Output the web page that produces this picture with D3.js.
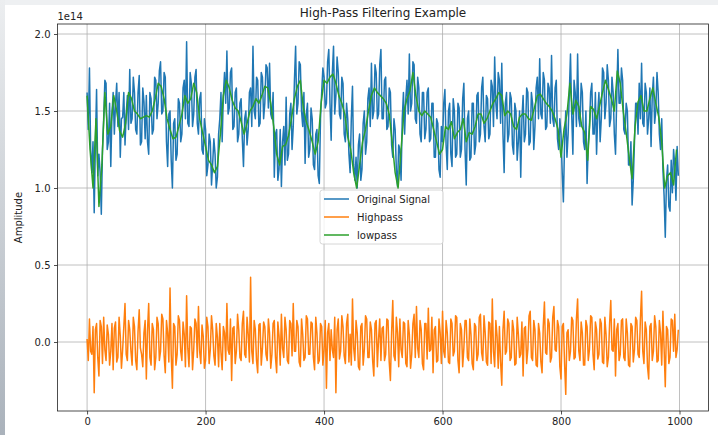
<!DOCTYPE html>
<html>
<head>
<meta charset="utf-8">
<title>High-Pass Filtering Example</title>
<script src="https://d3js.org/d3.v7.min.js"></script>
<style>
  body { margin: 0; }
  svg { display: block; font-family: "DejaVu Sans", sans-serif; }
</style>
</head>
<body>
<svg width="718" height="435"></svg>
<script>
// values in units of 1e14
// original signal, one value every 2 samples (0..998)
const original = [
  1.62, 1.38, 1.78, 1.25, 1.10, 1.30, 0.84, 1.28, 1.64, 1.08, 1.22, 1.10, 0.83, 1.25, 1.45, 1.70, 1.68, 1.25, 1.30, 1.55, 1.14, 1.48, 1.62, 1.35, 1.55, 1.68, 1.40, 1.62, 1.20, 1.45, 1.46, 1.62, 1.28, 1.48, 1.60, 1.38, 1.77, 1.42, 1.45, 1.72, 1.62, 1.38, 1.35, 1.62, 1.73, 1.28, 1.30, 1.65, 1.56, 1.32,
  1.60, 1.30, 1.22, 1.62, 1.58, 1.35, 1.38, 1.72, 1.70, 1.45, 1.55, 1.76, 1.82, 1.48, 1.50, 1.75, 1.72, 1.30, 1.14, 1.48, 1.50, 1.18, 1.00, 1.42, 1.45, 1.18, 1.22, 1.58, 1.55, 1.30, 1.35, 1.65, 1.70, 1.45, 1.95, 1.42, 1.40, 1.75, 1.68, 1.40, 1.48, 1.72, 1.77, 1.42, 1.35, 1.58, 1.62, 1.25, 1.22, 1.45,
  1.38, 1.08, 1.15, 1.35, 1.30, 1.02, 1.16, 1.32, 1.22, 1.00, 1.07, 1.35, 1.45, 1.62, 1.30, 1.60, 1.75, 1.55, 1.89, 1.48, 1.52, 1.75, 1.78, 1.38, 1.40, 1.62, 1.65, 1.30, 1.35, 1.55, 1.58, 1.32, 1.14, 1.45, 1.50, 1.28, 1.38, 1.62, 1.65, 1.40, 1.92, 1.50, 1.45, 1.72, 1.70, 1.40, 1.42, 1.75, 1.72, 1.45,
  1.55, 1.80, 1.78, 1.52, 1.81, 1.48, 1.45, 1.62, 1.07, 1.35, 1.38, 1.05, 1.12, 1.38, 1.01, 1.30, 1.40, 1.15, 1.59, 1.18, 1.22, 1.48, 1.55, 1.25, 1.40, 1.70, 1.92, 1.48, 1.55, 1.82, 1.80, 1.50, 1.40, 1.62, 1.16, 1.48, 1.55, 1.20, 1.25, 1.52, 1.45, 1.15, 1.12, 1.35, 1.38, 1.08, 1.03, 1.45, 1.62, 1.78,
  1.72, 1.52, 1.55, 1.82, 1.90, 1.55, 1.31, 1.75, 1.92, 1.48, 1.60, 1.85, 1.75, 1.48, 1.45, 1.72, 1.68, 1.35, 1.30, 1.55, 1.45, 1.22, 1.10, 1.45, 1.66, 1.15, 1.05, 1.20, 1.00, 1.28, 1.35, 1.05, 1.12, 1.42, 1.50, 1.22, 1.30, 1.58, 1.65, 1.40, 1.81, 1.45, 1.50, 1.80, 1.75, 1.45, 1.48, 1.80, 1.90, 1.45,
  1.45, 1.70, 1.72, 1.38, 1.40, 1.65, 1.62, 1.28, 1.20, 1.45, 1.38, 1.12, 1.01, 1.28, 1.25, 1.05, 1.45, 1.62, 1.35, 1.58, 1.70, 1.48, 1.87, 1.50, 1.55, 1.82, 1.80, 1.45, 1.42, 1.72, 1.65, 1.35, 1.30, 1.62, 1.62, 1.32, 1.38, 1.62, 1.65, 1.30, 1.32, 1.55, 1.55, 1.20, 1.20, 1.45, 1.42, 1.12, 1.07, 1.40,
  1.30, 1.55, 1.64, 1.28, 1.12, 1.50, 1.55, 1.22, 1.14, 1.58, 1.50, 1.20, 1.22, 1.55, 1.52, 1.20, 1.25, 1.58, 1.68, 1.25, 1.02, 1.45, 1.50, 1.18, 1.20, 1.55, 1.55, 1.22, 1.28, 1.60, 1.62, 1.30, 1.35, 1.65, 1.72, 1.40, 1.30, 1.60, 1.58, 1.32, 1.35, 1.70, 1.66, 1.40, 1.85, 1.55, 1.45, 1.75, 1.70, 1.42,
  1.81, 1.35, 1.10, 1.55, 1.62, 1.30, 1.35, 1.62, 1.58, 1.28, 1.22, 1.55, 1.50, 1.18, 1.30, 1.50, 1.07, 1.45, 1.60, 1.30, 1.35, 1.65, 1.62, 1.28, 1.30, 1.62, 1.55, 1.25, 1.40, 1.65, 1.72, 1.45, 1.84, 1.48, 1.45, 1.75, 1.70, 1.38, 1.40, 1.68, 1.65, 1.42, 1.86, 1.45, 1.40, 1.65, 1.70, 1.32, 1.25, 1.45,
  1.35, 1.10, 0.91, 1.30, 1.50, 1.20, 1.35, 1.62, 1.87, 1.48, 1.22, 1.70, 1.62, 1.40, 1.87, 1.45, 1.40, 1.68, 1.62, 1.30, 1.25, 1.50, 1.03, 1.28, 1.40, 1.62, 1.68, 1.35, 1.35, 1.62, 1.22, 1.48, 1.62, 1.30, 1.45, 1.78, 1.75, 1.45, 1.55, 1.80, 1.70, 1.40, 1.45, 1.72, 1.62, 1.35, 1.22, 1.58, 1.90, 1.55,
  1.55, 1.78, 1.70, 1.38, 1.35, 1.55, 1.50, 1.15, 1.15, 1.30, 0.89, 1.05, 1.30, 1.55, 1.55, 1.35, 1.68, 1.45, 1.81, 1.42, 1.40, 1.68, 1.62, 1.35, 1.45, 1.65, 1.27, 1.60, 1.72, 1.42, 1.50, 1.75, 1.62, 1.35, 1.25, 1.45, 1.12, 0.95, 0.68, 1.05, 1.15, 0.88, 0.85, 1.18, 0.97, 1.25, 1.15, 0.92, 1.27, 1.08
];

// highpass output, one value every 2 samples (0..998)
const highpass = [
  0.02, -0.12, 0.15, -0.06, -0.08, 0.10, -0.33, 0.08, 0.12, -0.10, -0.22, 0.14, 0.10, -0.14, 0.16, -0.05, -0.12, 0.11, 0.05, -0.15, -0.06, 0.12, -0.18, 0.09, 0.13, -0.13, -0.10, 0.16, 0.04, -0.17, -0.05, 0.10, 0.25, -0.08, -0.12, 0.14, 0.08, -0.06, -0.15, 0.16, 0.10, -0.12, -0.18, 0.07, 0.21, -0.04, -0.08, -0.16, 0.06, 0.14,
  -0.24, 0.08, 0.25, -0.10, -0.15, 0.12, 0.08, -0.18, -0.10, 0.16, 0.12, -0.12, -0.06, 0.18, 0.15, -0.09, -0.20, 0.14, 0.06, -0.13, 0.35, -0.08, -0.30, 0.12, 0.10, -0.15, -0.08, 0.17, 0.14, -0.06, -0.12, 0.13, 0.05, -0.16, 0.30, -0.04, -0.16, 0.10, 0.09, -0.18, -0.05, 0.15, 0.12, -0.10, 0.23, -0.06, -0.14, 0.11, 0.04, -0.17,
  -0.12, 0.16, 0.10, -0.14, -0.05, 0.17, 0.08, -0.09, -0.15, 0.12, 0.03, -0.16, 0.12, -0.07, -0.18, 0.10, 0.06, -0.12, 0.25, -0.05, -0.08, 0.15, -0.25, 0.09, 0.10, -0.14, -0.06, 0.18, 0.08, -0.10, -0.12, 0.12, 0.20, -0.08, -0.10, 0.16, 0.05, -0.13, 0.42, -0.06, -0.14, 0.14, 0.08, -0.12, -0.20, 0.11, 0.12, -0.15, -0.04, 0.13,
  0.10, -0.08, -0.12, 0.15, 0.06, -0.17, -0.08, 0.12, 0.14, -0.10, -0.20, 0.13, 0.04, -0.15, 0.18, -0.04, -0.10, 0.16, 0.08, -0.12, -0.14, 0.14, 0.12, -0.09, 0.25, -0.06, -0.06, 0.14, 0.10, -0.13, -0.16, 0.15, 0.05, -0.12, -0.10, 0.17, 0.15, -0.08, -0.08, 0.13, 0.12, -0.10, -0.18, 0.16, 0.06, -0.14, -0.12, 0.12, 0.10, -0.15,
  -0.05, 0.14, -0.30, 0.06, 0.12, -0.12, 0.08, -0.05, -0.10, 0.16, -0.33, 0.08, 0.15, -0.11, -0.06, 0.17, 0.10, -0.09, -0.14, 0.12, 0.18, -0.13, 0.05, -0.15, 0.28, -0.04, -0.12, 0.14, 0.06, -0.16, -0.18, 0.10, 0.12, -0.15, -0.05, 0.17, 0.15, -0.10, -0.10, 0.13, 0.08, -0.12, -0.22, 0.12, 0.14, -0.16, 0.02, 0.15, -0.12, 0.09,
  0.10, -0.12, -0.08, 0.15, 0.14, -0.13, -0.25, 0.06, 0.27, -0.09, -0.12, 0.16, 0.06, -0.16, 0.15, -0.05, -0.10, 0.13, 0.12, -0.14, -0.16, 0.14, 0.05, -0.17, -0.08, 0.12, 0.18, -0.10, 0.23, -0.04, -0.10, 0.14, 0.08, -0.14, -0.18, 0.12, 0.12, -0.11, 0.22, -0.06, -0.05, 0.16, -0.20, 0.08, 0.10, -0.13, -0.12, 0.15, 0.06, -0.14,
  0.20, -0.06, -0.10, 0.14, 0.06, -0.13, -0.14, 0.15, 0.12, -0.09, -0.06, 0.17, 0.16, -0.12, -0.20, 0.12, 0.08, -0.16, -0.04, 0.14, 0.14, -0.10, -0.12, 0.15, 0.05, -0.14, -0.18, 0.12, 0.10, -0.12, -0.08, 0.16, 0.18, -0.07, -0.12, 0.17, 0.06, -0.13, -0.15, 0.13, 0.12, -0.14, 0.28, -0.06, -0.16, 0.14, 0.04, -0.17, 0.10, -0.13,
  -0.28, 0.08, 0.20, -0.08, -0.06, 0.15, 0.12, -0.12, -0.10, 0.14, 0.08, -0.15, -0.14, 0.16, 0.05, -0.10, -0.08, 0.13, -0.22, 0.09, 0.10, -0.14, -0.05, 0.17, 0.20, -0.10, -0.12, 0.14, 0.08, -0.15, -0.16, 0.12, 0.06, -0.13, -0.20, 0.10, 0.26, -0.07, -0.08, 0.15, 0.12, -0.13, -0.10, 0.16, 0.23, -0.05, -0.06, 0.14, 0.10, -0.16,
  -0.24, 0.10, 0.12, -0.14, -0.34, 0.06, 0.08, -0.12, -0.06, 0.16, 0.14, -0.11, -0.10, 0.15, 0.28, -0.06, -0.12, 0.13, 0.06, -0.15, -0.15, 0.14, 0.10, -0.12, -0.05, 0.17, 0.16, -0.08, -0.18, 0.13, 0.08, -0.11, -0.08, 0.15, 0.12, -0.13, -0.14, 0.16, 0.05, -0.16, -0.10, 0.12, 0.27, -0.05, -0.06, 0.15, -0.22, 0.08, 0.12, -0.12,
  -0.08, 0.14, 0.15, -0.10, -0.12, 0.15, 0.06, -0.15, -0.16, 0.12, 0.10, -0.13, -0.05, 0.16, 0.14, -0.08, -0.10, 0.15, 0.33, -0.06, -0.14, 0.13, 0.08, -0.16, -0.24, 0.10, 0.12, -0.12, -0.06, 0.17, 0.10, -0.13, -0.12, 0.14, 0.06, -0.15, 0.20, -0.04, -0.29, 0.10, 0.08, -0.14, -0.10, 0.15, 0.14, -0.06, 0.18, -0.10, -0.05, 0.08
];

// lowpass output, one value every 5 samples (0..995)
const lowpass = [
  1.60, 1.25, 1.00, 1.45, 0.88, 1.15, 1.62, 1.35, 1.40, 1.60,
  1.50, 1.37, 1.33, 1.42, 1.62, 1.58, 1.50, 1.48, 1.45, 1.46,
  1.47, 1.46, 1.50, 1.58, 1.68, 1.66, 1.58, 1.45, 1.38, 1.32,
  1.33, 1.40, 1.48, 1.60, 1.55, 1.58, 1.68, 1.62, 1.45, 1.36,
  1.27, 1.18, 1.15, 1.10, 1.14, 1.35, 1.60, 1.70, 1.65, 1.57,
  1.52, 1.50, 1.43, 1.35, 1.42, 1.50, 1.53, 1.58, 1.55, 1.60,
  1.66, 1.65, 1.55, 1.40, 1.22, 1.15, 1.27, 1.28, 1.34, 1.45,
  1.58, 1.66, 1.70, 1.52, 1.43, 1.37, 1.30, 1.22, 1.30, 1.55,
  1.70, 1.68, 1.72, 1.74, 1.68, 1.60, 1.55, 1.48, 1.33, 1.25,
  1.10, 1.00, 1.15, 1.30, 1.38, 1.50, 1.60, 1.65, 1.62, 1.60,
  1.58, 1.55, 1.48, 1.30, 1.10, 1.00, 1.25, 1.50, 1.58, 1.63,
  1.75, 1.60, 1.50, 1.47, 1.50, 1.48, 1.46, 1.38, 1.30, 1.22,
  1.25, 1.40, 1.38, 1.43, 1.32, 1.36, 1.38, 1.45, 1.30, 1.36,
  1.35, 1.40, 1.48, 1.48, 1.42, 1.45, 1.50, 1.55, 1.58, 1.62,
  1.60, 1.47, 1.50, 1.48, 1.40, 1.38, 1.46, 1.48, 1.48, 1.45,
  1.44, 1.52, 1.60, 1.61, 1.58, 1.55, 1.53, 1.50, 1.45, 1.38,
  1.20, 1.38, 1.48, 1.68, 1.48, 1.57, 1.53, 1.40, 1.36, 1.18,
  1.53, 1.51, 1.45, 1.53, 1.62, 1.70, 1.64, 1.58, 1.50, 1.76,
  1.68, 1.50, 1.36, 1.20, 1.06, 1.40, 1.56, 1.60, 1.50, 1.50,
  1.58, 1.65, 1.55, 1.46, 1.30, 1.00, 1.08, 1.10, 1.02, 1.25
];

const xTicks = [0, 200, 400, 600, 800, 1000];
const yTicks = [0.0, 0.5, 1.0, 1.5, 2.0];
const seriesNames = ["Original Signal", "Highpass", "lowpass"];
const seriesColors = ["#1f77b4", "#ff7f0e", "#2ca02c"];

const svg = d3.select("svg"),
      width = +svg.attr("width"),
      height = +svg.attr("height");
const plot = {left: 57.5, right: 708.5, top: 24, bottom: 411};

// screenshot frame: grey strip on the left and top, white figure
const grad = svg.append("defs").append("linearGradient")
    .attr("id", "strip").attr("x1", 0).attr("y1", 0).attr("x2", 0).attr("y2", 1);
grad.append("stop").attr("offset", "0%").attr("stop-color", "#eceef0");
grad.append("stop").attr("offset", "100%").attr("stop-color", "#aab2bb");
svg.append("rect").attr("width", width).attr("height", height).attr("fill", "#eef0f2");
svg.append("rect").attr("width", 5).attr("height", height).attr("fill", "url(#strip)");
svg.append("rect").attr("x", 5).attr("y", 5).attr("width", width - 5).attr("height", height - 5).attr("fill", "#fff");

const x = d3.scaleLinear().domain([-49.95, 1048.95]).range([plot.left, plot.right]);
const y = d3.scaleLinear().domain([-0.448, 2.065]).range([plot.bottom, plot.top]);

svg.append("clipPath").attr("id", "clip")
   .append("rect")
   .attr("x", plot.left).attr("y", plot.top)
   .attr("width", plot.right - plot.left).attr("height", plot.bottom - plot.top);

// grid
const grid = svg.append("g").attr("stroke", "#b0b0b0").attr("stroke-width", 0.8);
grid.selectAll(".gx").data(xTicks).enter().append("line")
    .attr("x1", d => x(d)).attr("x2", d => x(d))
    .attr("y1", plot.top).attr("y2", plot.bottom);
grid.selectAll(".gy").data(yTicks).enter().append("line")
    .attr("x1", plot.left).attr("x2", plot.right)
    .attr("y1", d => y(d)).attr("y2", d => y(d));

// lines
const series = [
  {values: original, step: 2},
  {values: highpass, step: 2},
  {values: lowpass, step: 5}
];
const line = d3.line().x(d => x(d[0])).y(d => y(d[1]));
const lines = svg.append("g").attr("clip-path", "url(#clip)");
series.forEach(function(s, k) {
  lines.append("path")
       .datum(s.values.map((v, i) => [i * s.step, v]))
       .attr("fill", "none")
       .attr("stroke", seriesColors[k])
       .attr("stroke-width", 1.5)
       .attr("stroke-linejoin", "round")
       .attr("d", line);
});

// axes
const xAxis = svg.append("g")
   .attr("transform", `translate(0,${plot.bottom})`)
   .call(d3.axisBottom(x).tickValues(xTicks).tickFormat(d3.format("d")).tickSize(3.5).tickPadding(3.5));
const yAxis = svg.append("g")
   .attr("transform", `translate(${plot.left},0)`)
   .call(d3.axisLeft(y).tickValues(yTicks).tickFormat(d3.format(".1f")).tickSize(3.5).tickPadding(3.5));
[xAxis, yAxis].forEach(function(a) {
  a.select(".domain").remove();
  a.selectAll("text").attr("font-size", 10).attr("fill", "#222").attr("font-family", "DejaVu Sans");
  a.selectAll("line").attr("stroke", "#222").attr("stroke-width", 0.8);
});

svg.append("rect")
   .attr("x", plot.left).attr("y", plot.top)
   .attr("width", plot.right - plot.left).attr("height", plot.bottom - plot.top)
   .attr("fill", "none").attr("stroke", "#222").attr("stroke-width", 0.8);

// texts
svg.append("text")
   .attr("x", (plot.left + plot.right) / 2).attr("y", 17)
   .attr("text-anchor", "middle").attr("font-size", 12).attr("fill", "#222")
   .text("High-Pass Filtering Example");
svg.append("text")
   .attr("x", plot.left).attr("y", 20)
   .attr("font-size", 10).attr("fill", "#222")
   .text("1e14");
svg.append("text")
   .attr("transform", `translate(22,${(plot.top + plot.bottom) / 2}) rotate(-90)`)
   .attr("text-anchor", "middle").attr("font-size", 10).attr("fill", "#222")
   .text("Amplitude");

// legend
const legend = svg.append("g").attr("transform", "translate(320,190)");
legend.append("rect")
   .attr("width", 123).attr("height", 54).attr("rx", 2.5)
   .attr("fill", "#fff").attr("fill-opacity", 0.8)
   .attr("stroke", "#cccccc").attr("stroke-width", 0.8);
const item = legend.selectAll(".item").data(seriesNames).enter().append("g")
   .attr("transform", (d, i) => `translate(0,${9 + i * 18})`);
item.append("line")
   .attr("x1", 4).attr("x2", 29)
   .attr("stroke", (d, i) => seriesColors[i]).attr("stroke-width", 1.5);
item.append("text")
   .attr("x", 37).attr("dy", "0.35em")
   .attr("font-size", 10).attr("fill", "#222")
   .text(d => d);
</script>
</body>
</html>
